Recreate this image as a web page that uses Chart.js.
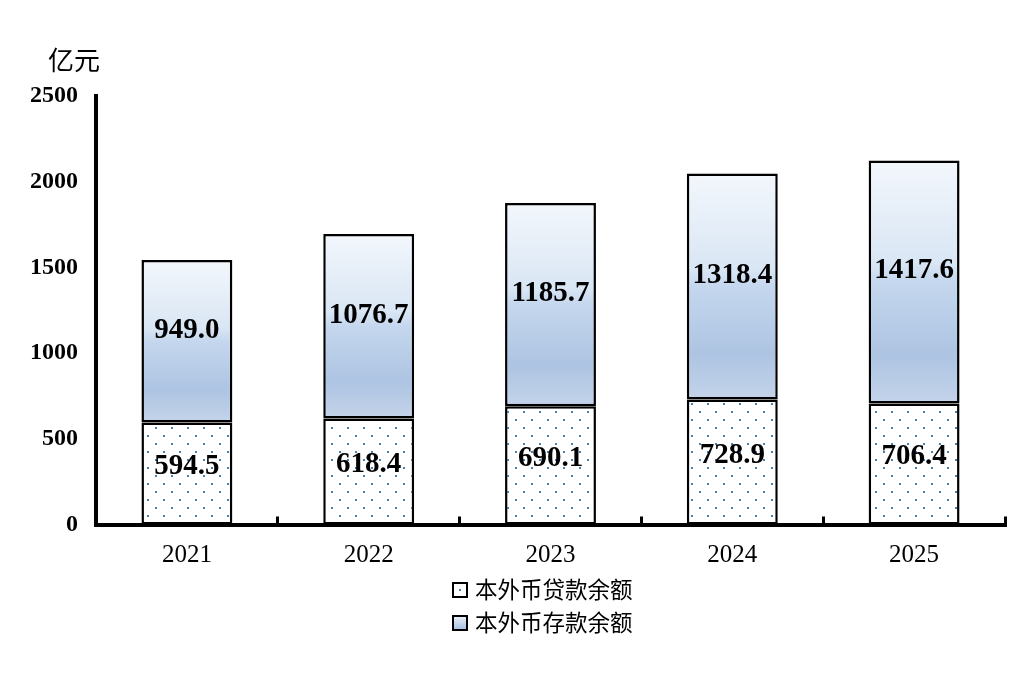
<!DOCTYPE html>
<html>
<head>
<meta charset="utf-8">
<script src="https://cdn.jsdelivr.net/npm/chart.js@4.4.1/dist/chart.umd.min.js"></script>
<style>
  html, body { margin: 0; padding: 0; background: #fff; }
  #wrap { position: relative; width: 1020px; height: 683px; }
  #unit { position: absolute; left: 48px; top: 40px; font: 26px "Noto Sans CJK SC"; color: #000; }
  .leg { position: absolute; left: 452px; font: 22.5px "Noto Sans CJK SC"; color: #000; line-height: 26px; }
  .box { display: inline-block; width: 12px; height: 12px; border: 2px solid #000; vertical-align: middle; margin-right: 7px; position: relative; top: -2px; }
  #b1 { background: radial-gradient(circle at center, #4a7cc4 0 1px, #fff 1.5px); }
  #b2 { background: linear-gradient(#e6eef8, #a9c1e1); }
</style>
</head>
<body>
<div id="wrap">
  <canvas id="canvas1"></canvas>
  <div id="unit">亿元</div>
  <div class="leg" style="top:575px"><span class="box" id="b1"></span>本外币贷款余额</div>
  <div class="leg" style="top:608px"><span class="box" id="b2"></span>本外币存款余额</div>
</div>
<script>
var anios = ["2021", "2022", "2023", "2024", "2025"];
var prestamos = [594.5, 618.4, 690.1, 728.9, 706.4];
var depositos = [949.0, 1076.7, 1185.7, 1318.4, 1417.6];
var nombres = ["本外币贷款余额", "本外币存款余额"];

// fondo punteado para los prestamos
function getPuntos()
{
    var c = document.createElement("canvas");
    c.width = 16;
    c.height = 16;
    var g = c.getContext("2d");
    g.fillStyle = "#fff";
    g.fillRect(0, 0, 16, 16);
    g.fillStyle = "#4a7cc4";
    g.fillRect(3, 3, 2, 2);
    g.fillRect(11, 11, 2, 2);
    return g.createPattern(c, "repeat");
}

function getDegradado(context)
{
    var chart = context.chart;
    if (!chart.chartArea) return "#c6d6ec";
    var i = context.dataIndex;
    var y = chart.scales.y;
    var arriba = y.getPixelForValue(prestamos[i] + depositos[i]);
    var abajo = y.getPixelForValue(prestamos[i]);
    var grad = chart.ctx.createLinearGradient(0, arriba, 0, abajo);
    grad.addColorStop(0, "#f3f7fc");
    grad.addColorStop(0.42, "#d9e6f4");
    grad.addColorStop(0.5, "#c5d7ee");
    grad.addColorStop(0.8, "#adc4e2");
    grad.addColorStop(1, "#c4d4ea");
    return grad;
}

var etiquetas = {
    id: "etiquetas",
    afterDatasetsDraw: function(chart)
    {
        var ctx = chart.ctx;
        ctx.save();
        ctx.font = "bold 29px 'Liberation Serif'";
        ctx.fillStyle = "#000";
        ctx.textAlign = "center";
        ctx.textBaseline = "middle";
        chart.data.datasets.forEach(function(ds, d) {
            var meta = chart.getDatasetMeta(d);
            meta.data.forEach(function(el, i) {
                var yc = (el.y + el.base) / 2 - (d === 0 ? 7 : 11);
                ctx.fillText(ds.data[i].toFixed(1), el.x, yc);
            });
        });
        ctx.restore();
    }
};

var ctx = document.getElementById("canvas1");
new Chart(ctx, {
    type: 'bar',
    data: {
        labels: anios,
        datasets: [{
            label: nombres[0],
            data: prestamos,
            backgroundColor: getPuntos(),
            borderColor: "#000",
            borderWidth: 2.5,
            borderSkipped: false
        }, {
            label: nombres[1],
            data: depositos,
            backgroundColor: getDegradado,
            borderColor: "#000",
            borderWidth: 2.5,
            borderSkipped: false
        }]
    },
    options: {
        animation: false,
        maintainAspectRatio: false,
        responsive: true,
        devicePixelRatio: 1,
        categoryPercentage: 0.5,
        barPercentage: 1,
        layout: { padding: { left: 0, top: 96, right: 15, bottom: 0 } },
        plugins: {
            legend: { display: false },
            tooltip: { enabled: false }
        },
        scales: {
            x: {
                stacked: true,
                grid: { drawOnChartArea: false, tickLength: -8, tickWidth: 3, color: "#000" },
                border: { width: 4, color: "#000" },
                ticks: { color: "#000", padding: 24, font: { family: "'Liberation Serif'", size: 25 } },
                afterFit: function(s) { s.height = 158.5; }
            },
            y: {
                stacked: true,
                min: 0,
                max: 2500,
                grid: { display: false, drawTicks: false },
                border: { width: 4, color: "#000" },
                ticks: {
                    stepSize: 500,
                    color: "#000",
                    padding: 18,
                    font: { family: "'Liberation Serif'", size: 24, weight: "bold" },
                    callback: function(v) { return String(v); }
                },
                afterFit: function(s) { s.width = 96; }
            }
        }
    },
    plugins: [etiquetas]
});
</script>
</body>
</html>
